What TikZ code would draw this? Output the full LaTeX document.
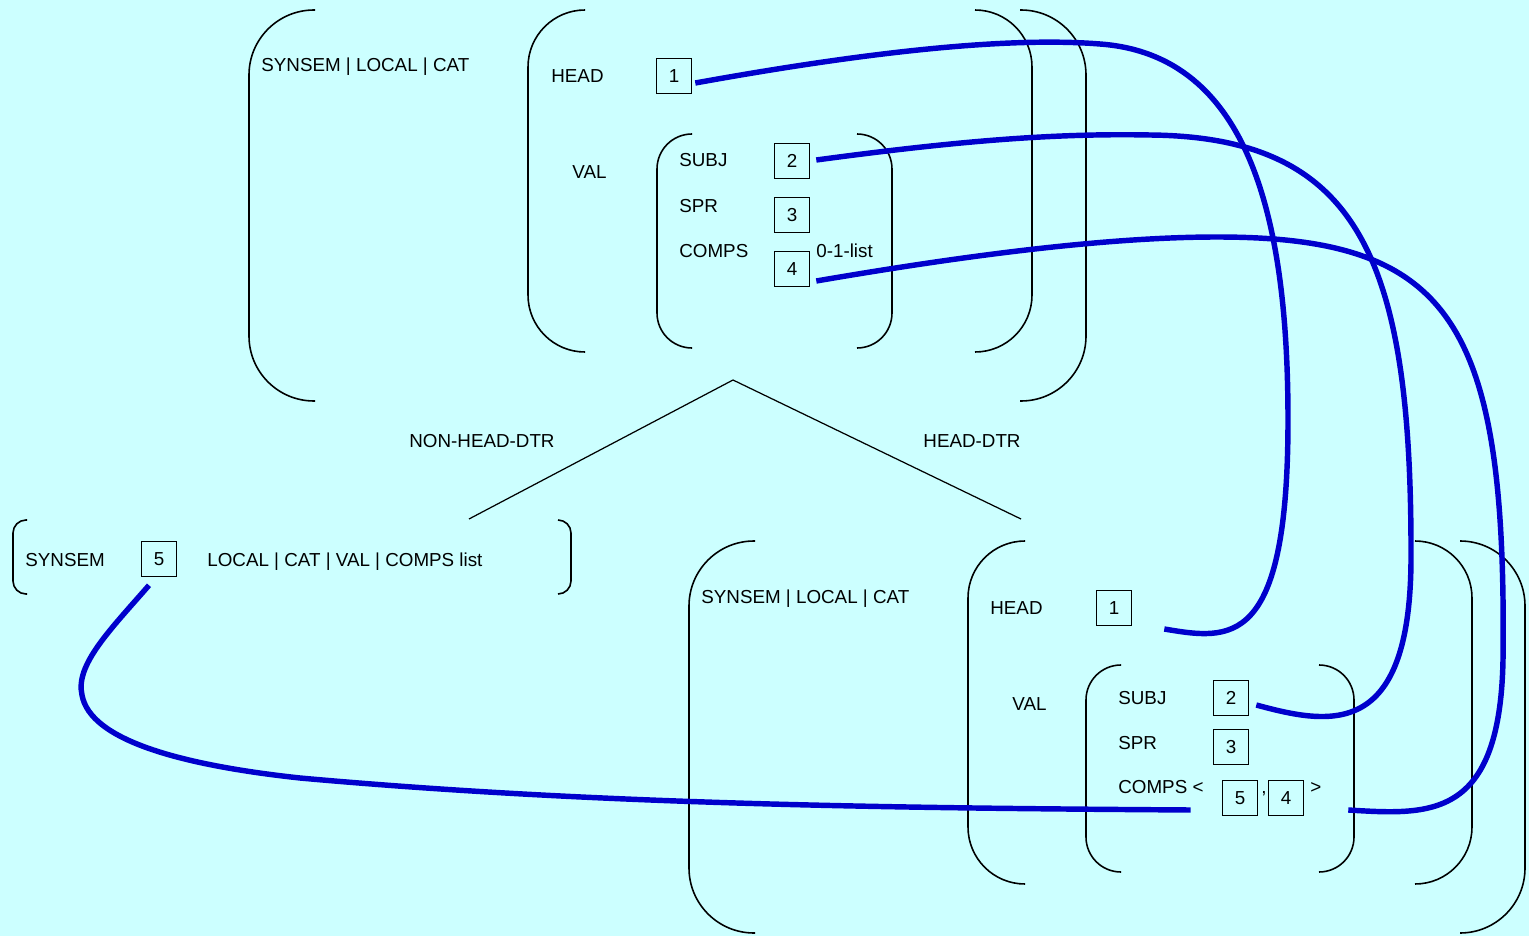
\documentclass[tikz,border=0pt]{standalone}
\usepackage{fontspec}
\setmainfont{Liberation Sans}
\usetikzlibrary{positioning,calc}
\definecolor{bgcyan}{HTML}{CCFFFF}
\definecolor{share}{HTML}{0000CC}
\tikzset{
  feat/.style   ={anchor=base west, inner sep=0pt, text=black},
  dtr/.style    ={anchor=base, inner sep=0pt, text=black},
  tagbox/.style ={draw=black, line width=0.9pt, minimum size=0.7cm, inner sep=0pt},
  brk/.style    ={draw=black, line width=0.9pt},
  brkL/.style   ={brk, rounded corners=1.3cm},
  brkM/.style   ={brk, rounded corners=1.14cm},
  brkS/.style   ={brk, rounded corners=0.7cm},
  brkT/.style   ={brk, rounded corners=0.26cm},
  branch/.style ={draw=black, line width=0.7pt},
  reent/.style  ={draw=share, line width=3.1pt},
}

\begin{document}
\begin{tikzpicture}[x=0.02cm, y=-0.02cm, font=\fontsize{10.7}{12.8}\selectfont]

  \fill[bgcyan] (0,0) rectangle (1529,936);
  \useasboundingbox (0,0) rectangle (1529,936);

  % ---- mother: brackets ----
  \draw[brkL] (315,10) -- (249,10) -- (249,401) -- (315,401);
  \draw[brkL] (1020,10) -- (1086,10) -- (1086,401) -- (1020,401);
  \draw[brkM] (585,10) -- (528,10) -- (528,352) -- (585,352);
  \draw[brkM] (975,10) -- (1032,10) -- (1032,352) -- (975,352);
  \draw[brkS] (692,134) -- (657,134) -- (657,348) -- (692,348);
  \draw[brkS] (857,134) -- (892,134) -- (892,348) -- (857,348);

  % ---- mother: features ----
  \node[feat]   (mcat)   at (261,72)  {SYNSEM | LOCAL | CAT};
  \node[feat]   (mhead)  at (551,83)  {HEAD};
  \node[tagbox] (m1)     at (674,76)  {1};
  \node[feat]   (mval)   at (572,178) {VAL};
  \node[feat]   (msubj)  at (679,167) {SUBJ};
  \node[tagbox] (m2)     at (792,161) {2};
  \node[feat]   (mspr)   at (679,213) {SPR};
  \node[tagbox] (m3)     at (792,215) {3};
  \node[feat]   (mcomps) at (679,257) {COMPS};
  \node[tagbox] (m4)     at (792,269) {4};
  \node[feat]   (mlist)  at (816,257) {0-1-list};

  % ---- tree ----
  \coordinate (apex)  at (733,380);
  \coordinate (nleaf) at (469,519);
  \coordinate (hleaf) at (1021,519);
  \draw[branch] (apex) -- (nleaf);
  \draw[branch] (apex) -- (hleaf);
  \node[dtr] (nlab) at (482,447) {NON-HEAD-DTR};
  \node[dtr] (hlab) at (972,447) {HEAD-DTR};

  % ---- non-head daughter ----
  \draw[brkT] (27,520) -- (13,520) -- (13,594) -- (27,594);
  \draw[brkT] (558,520) -- (571,520) -- (571,594) -- (558,594);
  \node[feat]   (nsyn) at (25,566)  {SYNSEM};
  \node[tagbox] (n5)   at (159,559) {5};
  \node[feat]   (nloc) at (207,566) {LOCAL | CAT | VAL | COMPS list};

  % ---- head daughter: brackets ----
  \draw[brkL] (755,541) -- (689,541) -- (689,933) -- (755,933);
  \draw[brkL] (1460,541) -- (1525,541) -- (1525,933) -- (1460,933);
  \draw[brkM] (1025,541) -- (968,541) -- (968,884) -- (1025,884);
  \draw[brkM] (1415,541) -- (1472,541) -- (1472,884) -- (1415,884);
  \draw[brkS] (1121,665) -- (1086,665) -- (1086,872) -- (1121,872);
  \draw[brkS] (1319,665) -- (1354,665) -- (1354,872) -- (1319,872);

  % ---- head daughter: features ----
  \node[feat]   (hcat)   at (701,603)  {SYNSEM | LOCAL | CAT};
  \node[feat]   (hhead)  at (990,614)  {HEAD};
  \node[tagbox] (h1)     at (1114,608) {1};
  \node[feat]   (hval)   at (1012,710) {VAL};
  \node[feat]   (hsubj)  at (1118,704) {SUBJ};
  \node[tagbox] (h2)     at (1231,698) {2};
  \node[feat]   (hspr)   at (1118,749) {SPR};
  \node[tagbox] (h3)     at (1231,747) {3};
  \node[feat]   (hcomps) at (1118,793) {COMPS <};
  \node[tagbox] (h5)     at (1240,798) {5};
  \node[feat]   (hcomma) at (1261,793) {,};
  \node[tagbox] (h4)     at (1286,798) {4};
  \node[feat]   (hclose) at (1310,793) {>};

  % ---- structure sharing ----
  \coordinate (e1) at ($(h1.east)+(32,21)$);
  \coordinate (e2) at ($(h2.east)+(7,7)$);
  \coordinate (e4) at ($(h4.east)+(44,12)$);
  \coordinate (e5) at ($(h5.west)+(-31,12)$);
  \draw[reent] ($(m1.east)+(3,7)$) .. controls (850,55) and (1000,36) .. (1100,44)
        .. controls (1250,55) and (1288,220) .. (1288,420)
        .. controls (1288,650) and (1230,640) .. (e1);
  \draw[reent] ($(m2.east)+(6,-1)$) .. controls (950,142) and (1050,133) .. (1150,135)
        .. controls (1360,137) and (1412,260) .. (1411,560)
        .. controls (1410,740) and (1330,725) .. (e2);
  \draw[reent] ($(m4.east)+(6,12)$) .. controls (950,258) and (1100,237) .. (1217,237)
        .. controls (1450,237) and (1507,320) .. (1503,660)
        .. controls (1500,820) and (1430,815) .. (e4);
  \draw[reent] ($(n5.south)+(-10,8)$) .. controls (110,630) and (75,665) .. (82,695)
        .. controls (90,740) and (180,765) .. (300,778)
        .. controls (600,805) and (900,808) .. (e5);

\end{tikzpicture}
\end{document}
